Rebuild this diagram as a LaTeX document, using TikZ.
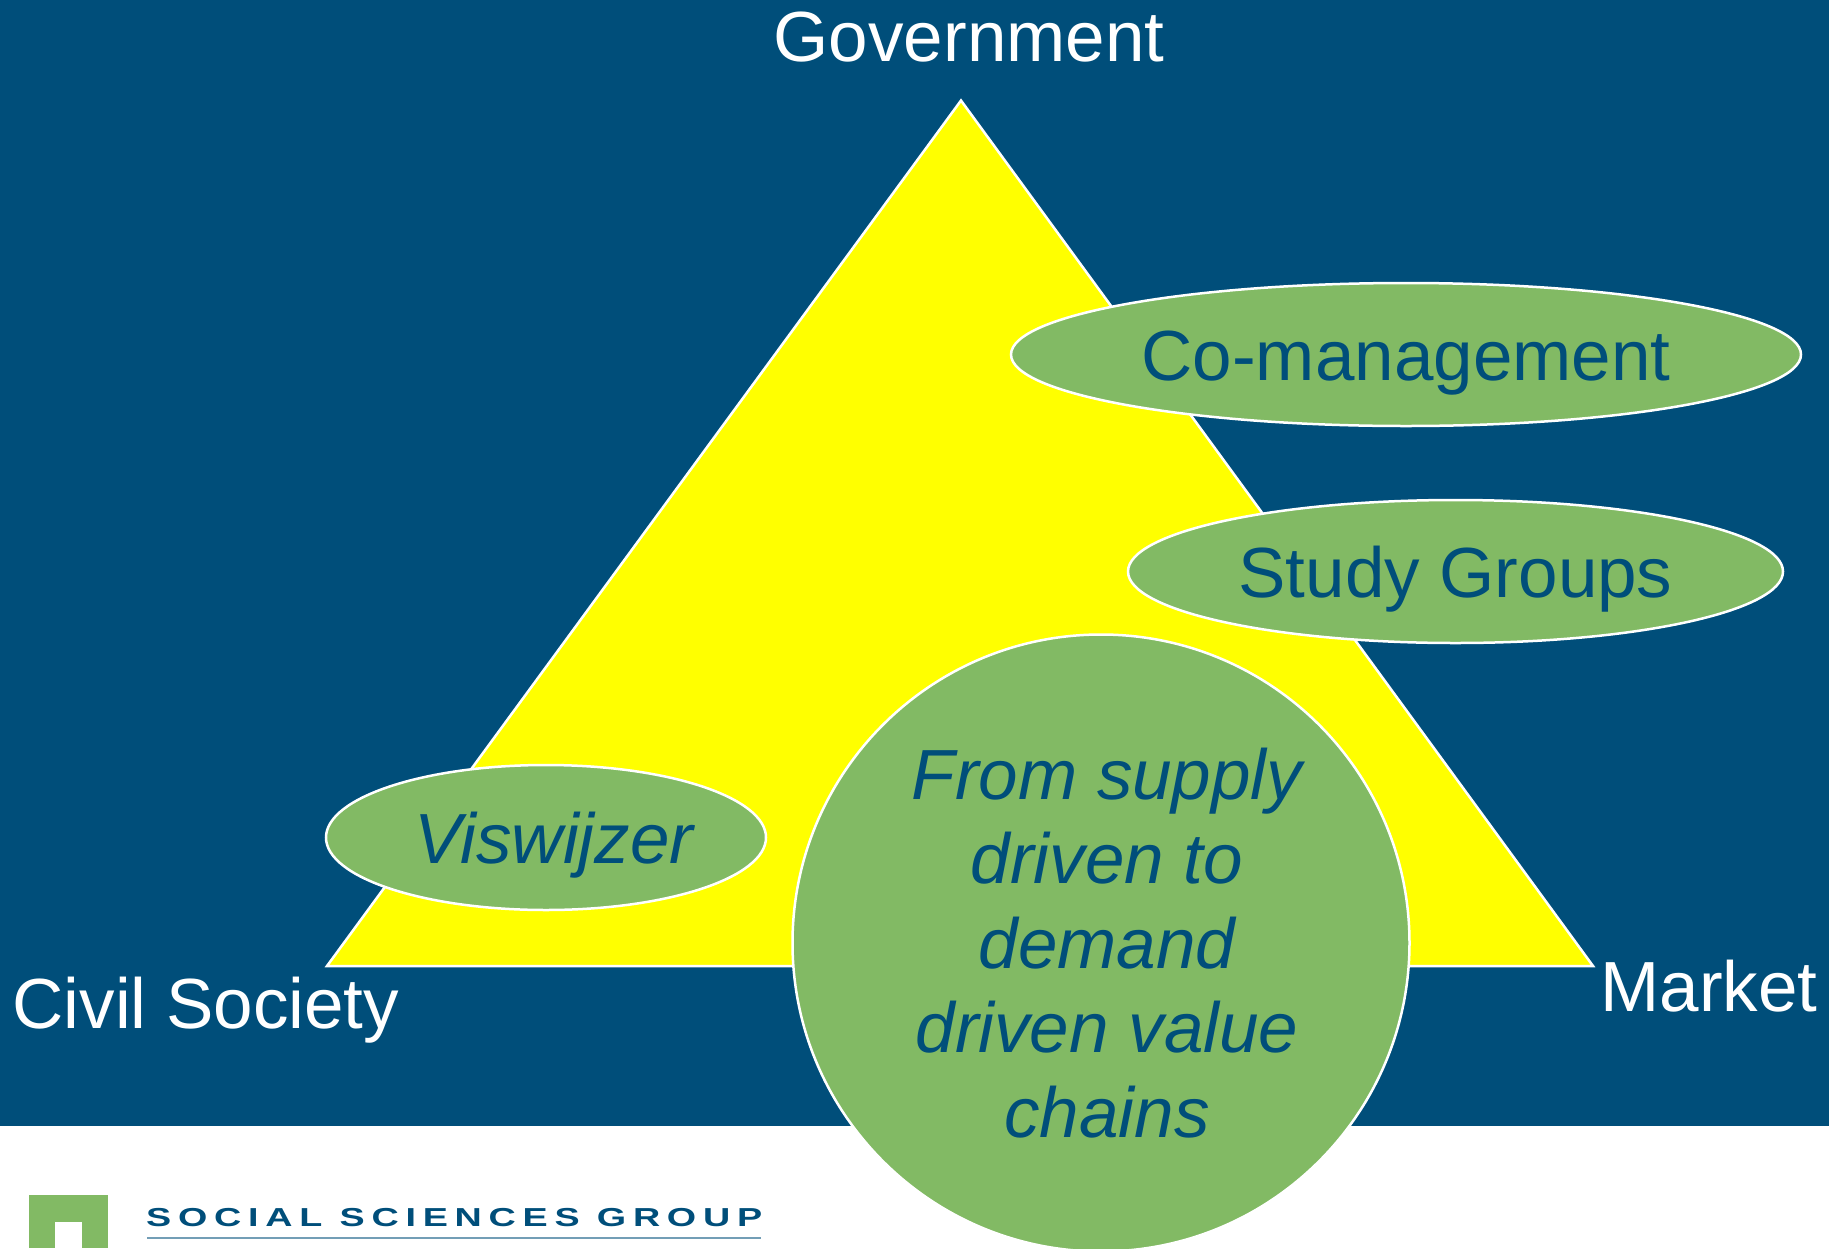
\documentclass[tikz,border=0pt]{standalone}
\usepackage{fontspec}
\setmainfont{Liberation Sans}
\newfontfamily\logofont[LetterSpace=26,FakeStretch=1.45]{Liberation Sans}
\usetikzlibrary{shapes.geometric}
\definecolor{wurblue}{HTML}{004E7A}
\definecolor{wurgreen}{HTML}{82BA64}
\definecolor{wuryellow}{HTML}{FFFF00}

\begin{document}
\begin{tikzpicture}[x=1pt, y=-1pt]
  \tikzstyle{corner}=[text=white, font=\fontsize{71}{84}\selectfont, anchor=base, inner sep=0pt]
  \tikzstyle{oval}=[draw=white, line width=2.5pt, fill=wurgreen, ellipse, text=wurblue, font=\fontsize{71}{84}\selectfont, inner sep=0pt, minimum height=143pt, text height=52pt, text depth=0pt]
  \tikzstyle{bubble}=[draw=white, line width=2.5pt, fill=wurgreen, circle, text=wurblue, inner sep=0pt, minimum size=617pt, align=center, font=\fontsize{71}{84.5}\selectfont\itshape]

  \clip (0,0) rectangle (1829,1248);

  % Background and logo block
  \fill[wurblue] (0,0) rectangle (1829,1126);
  \fill[wurgreen] (29,1195) rectangle (108,1248);
  \fill[white] (55,1222) rectangle (82,1248);

  % Triangle
  \coordinate (top) at (961,100.5);
  \coordinate (left) at (327,966);
  \coordinate (right) at (1593,966);
  \draw[white, line width=2.5pt, fill=wuryellow] (top) -- (right) -- (left) -- cycle;

  \node[corner] (government) at (969,61) {Government};
  \node[corner] (civil) at (206,1028) {Civil Society};
  \node[corner] (market) at (1709,1011) {Market};

  \node[oval, minimum width=790pt] (comanagement) at (1406,354.5) {Co-management};
  \node[oval, minimum width=655pt] (studygroups) at (1455.5,571.5) {Study Groups};
  \node[oval, minimum width=440pt, minimum height=145pt, font=\fontsize{71}{84}\selectfont\itshape] (viswijzer) at (546,837.5) {\hspace{16pt}Viswijzer};
  \node[bubble] (valuechains) at (1101,943) {\hspace*{12pt}From supply\\\hspace*{12pt}driven to\\\hspace*{12pt}demand\\\hspace*{12pt}driven value\\\hspace*{12pt}chains};

  % Logo text
  \node[text=wurblue, font=\logofont\bfseries\fontsize{26}{30}\selectfont, anchor=base west, inner sep=0pt] (group) at (146,1226) {SOCIAL SCIENCES GROUP};
  \coordinate (ruleend) at (761,1238);
  \draw[wurblue!55, line width=1.5pt] (147,1238) -- (ruleend);
\end{tikzpicture}
\end{document}
